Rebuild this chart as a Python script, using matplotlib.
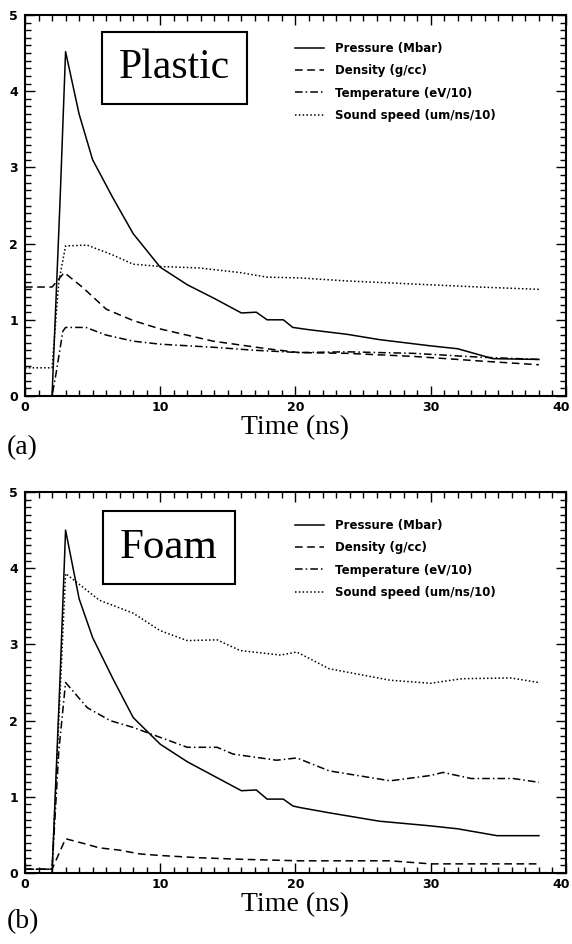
import matplotlib
matplotlib.use('Agg')
import matplotlib.pyplot as plt
import matplotlib.transforms as mtransforms
from matplotlib.ticker import MultipleLocator

# Plastic (a)
t_pl_pres = [0, 2.0, 2.6, 3.0, 4.0, 5.0, 6.5, 8.0, 10.0, 12.0, 14.0, 16.0, 17.1, 17.9, 19.1, 19.8, 21.0, 23.8, 26.2, 29.9, 32.0, 34.6, 38.0]
pl_pres = [0, 0, 2.6, 4.52, 3.7, 3.1, 2.6, 2.13, 1.69, 1.46, 1.28, 1.09, 1.10, 1.0, 1.0, 0.9, 0.87, 0.81, 0.74, 0.66, 0.62, 0.49, 0.48]
t_pl_dens = [0, 2.0, 2.9, 4.3, 6.0, 8.0, 10.0, 13.9, 17.9, 20.3, 23.8, 28.7, 33.6, 38.0]
pl_dens = [1.43, 1.43, 1.62, 1.42, 1.14, 0.99, 0.88, 0.72, 0.62, 0.57, 0.56, 0.52, 0.46, 0.41]
t_pl_temp = [0, 2.0, 2.3, 2.8, 3.0, 4.5, 6.0, 8.0, 10.0, 13.9, 17.0, 20.3, 23.8, 28.7, 33.6, 38.0]
pl_temp = [0.0, 0.0, 0.3, 0.85, 0.9, 0.9, 0.8, 0.72, 0.68, 0.64, 0.6, 0.57, 0.58, 0.56, 0.51, 0.48]
t_pl_snd = [0, 2.0, 2.5, 3.0, 4.6, 6.5, 8.0, 10.0, 12.9, 15.9, 17.9, 20.3, 23.8, 28.7, 33.6, 38.0]
pl_snd = [0.37, 0.37, 1.5, 1.97, 1.98, 1.85, 1.73, 1.70, 1.68, 1.62, 1.56, 1.55, 1.51, 1.47, 1.43, 1.40]

# Foam (b)
t_fo_pres = [0, 2.0, 2.6, 3.0, 4.0, 5.0, 6.5, 8.0, 10.0, 12.0, 14.0, 16.0, 17.1, 17.9, 19.1, 19.8, 20.3, 22.5, 26.2, 29.9, 32.0, 34.9, 38.0]
fo_pres = [0, 0, 2.6, 4.5, 3.6, 3.09, 2.55, 2.04, 1.69, 1.46, 1.27, 1.08, 1.09, 0.97, 0.97, 0.88, 0.86, 0.79, 0.68, 0.62, 0.58, 0.49, 0.49]
t_fo_dens = [0, 2.0, 2.5, 3.0, 4.5, 5.5, 7.0, 8.5, 10.0, 12.9, 16.0, 20.3, 24.0, 27.0, 30.0, 34.0, 38.0]
fo_dens = [0.05, 0.05, 0.25, 0.45, 0.38, 0.33, 0.30, 0.25, 0.23, 0.20, 0.18, 0.16, 0.16, 0.16, 0.12, 0.12, 0.12]
t_fo_temp = [0, 2.0, 2.5, 3.0, 4.6, 6.3, 8.0, 10.0, 12.0, 14.2, 15.4, 18.6, 20.1, 22.5, 27.0, 30.0, 30.9, 33.0, 36.1, 38.0]
fo_temp = [0.05, 0.05, 1.6, 2.5, 2.17, 2.0, 1.91, 1.78, 1.65, 1.65, 1.56, 1.48, 1.51, 1.34, 1.21, 1.28, 1.32, 1.24, 1.24, 1.19]
t_fo_snd = [0, 2.0, 2.5, 3.0, 5.5, 8.0, 10.0, 12.0, 14.2, 15.9, 18.9, 20.1, 22.5, 27.0, 30.0, 32.3, 35.9, 38.0]
fo_snd = [0.05, 0.05, 2.0, 3.93, 3.58, 3.41, 3.18, 3.05, 3.06, 2.92, 2.86, 2.9, 2.68, 2.53, 2.49, 2.55, 2.56, 2.5]

labels = ['Pressure (Mbar)', 'Density (g/cc)', 'Temperature (eV/10)', 'Sound speed (um/ns/10)']
x_ticks = [0, 10, 20, 30, 40]
y_ticks = [0, 1, 2, 3, 4, 5]

serif = 'Liberation Serif'

fig = plt.figure(figsize=(5.72, 9.44), dpi=100)


def panel(rect, series, name, name_size, name_xy, tag, tag_y):
    ax = fig.add_axes(rect)
    styles = ['-', (0, (5, 3)), (0, (5, 2, 1, 2)), (0, (1, 1.5))]
    for (t, y), ls, lab in zip(series, styles, labels):
        ax.plot(t, y, color='black', linestyle=ls, linewidth=1.1, label=lab)
    ax.set_xlim(0, 40)
    ax.set_ylim(0, 5)
    ax.set_xticks(x_ticks)
    ax.set_yticks(y_ticks)
    ax.xaxis.set_minor_locator(MultipleLocator(1))
    ax.yaxis.set_minor_locator(MultipleLocator(0.1))
    ax.tick_params(which='both', direction='in', top=True, right=True, labelsize=9, width=1)
    ax.tick_params(which='major', length=7)
    ax.tick_params(which='minor', length=4)
    ax.tick_params(axis='y', pad=5)
    for lb in ax.get_xticklabels() + ax.get_yticklabels():
        lb.set_fontweight('bold')
    # keep the "40" inside the figure edge
    last = ax.get_xticklabels()[-1]
    last.set_transform(last.get_transform() + mtransforms.ScaledTranslation(-5 / 100, 0, fig.dpi_scale_trans))
    for sp in ax.spines.values():
        sp.set_linewidth(1.5)
    ax.set_xlabel('Time (ns)', family=serif, fontsize=20, labelpad=1)
    ax.text(name_xy[0], name_xy[1], name, transform=ax.transAxes, family=serif, fontsize=name_size,
            ha='left', va='top',
            bbox=dict(boxstyle='square,pad=0.4', facecolor='white', edgecolor='black', linewidth=1.5))
    ax.legend(loc='upper left', bbox_to_anchor=(0.48, 0.958), frameon=False,
              prop={'weight': 'bold', 'size': 8.5}, handlelength=2.4,
              handletextpad=1.0, labelspacing=0.8)
    fig.text(0.012, tag_y, tag, family=serif, fontsize=20, ha='left', va='center')
    return ax


panel([0.0437, 0.5805, 0.9458, 0.4036],
      [(t_pl_pres, pl_pres), (t_pl_dens, pl_dens), (t_pl_temp, pl_temp), (t_pl_snd, pl_snd)],
      'Plastic', 30, (0.1738, 0.911), '(a)', 0.5254)
panel([0.0437, 0.0752, 0.9458, 0.4036],
      [(t_fo_pres, fo_pres), (t_fo_dens, fo_dens), (t_fo_temp, fo_temp), (t_fo_snd, fo_snd)],
      'Foam', 31, (0.1756, 0.904), '(b)', 0.0233)

fig.savefig('out.png', dpi=100)
